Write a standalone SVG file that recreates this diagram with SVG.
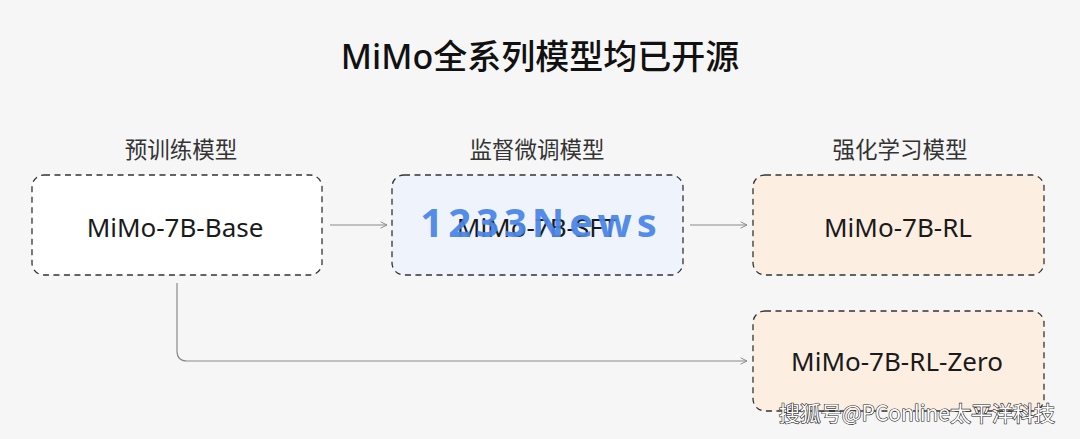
<svg xmlns="http://www.w3.org/2000/svg" width="1080" height="439" viewBox="0 0 1080 439">
<defs>
<marker id="arr" viewBox="0 0 10 10" refX="9" refY="5" markerWidth="8" markerHeight="8" markerUnits="userSpaceOnUse" orient="auto">
<path d="M1,1 L9,5 L1,9" fill="none" stroke="#888" stroke-width="1.2"/>
</marker>
<style>
.box{stroke:#333;stroke-width:1.3;stroke-dasharray:6 4.5}
.nt{font-family:"Noto Sans","Noto Sans CJK SC",sans-serif;font-size:26px;fill:#1a1a1a;text-anchor:middle}
.lb{font-family:"Noto Sans CJK SC",sans-serif;font-size:22.5px;fill:#333;text-anchor:middle}
.cn{fill:none;stroke:#8a8a8a;stroke-width:1.2}
</style>
</defs>
<rect width="1080" height="439" fill="#f6f6f6"/>
<text x="540" y="69" font-family="Noto Sans, Noto Sans CJK SC, sans-serif" font-size="34" font-weight="500" fill="#111" text-anchor="middle">MiMo全系列模型均已开源</text>
<g id="labels">
<text class="lb" x="181" y="158">预训练模型</text>
<text class="lb" x="537" y="158">监督微调模型</text>
<text class="lb" x="900" y="158">强化学习模型</text>
</g>
<g id="connectors">
<line class="cn" x1="330" y1="225" x2="387" y2="225" marker-end="url(#arr)"/>
<line class="cn" x1="690" y1="225" x2="747" y2="225" marker-end="url(#arr)"/>
<path class="cn" d="M177,283 V351 Q177,361 187,361 H747" marker-end="url(#arr)"/>
</g>
<g id="base">
<rect class="box" x="32" y="175" width="290" height="100" rx="12" fill="#ffffff"/>
<text class="nt" x="175" y="237">MiMo-7B-Base</text>
</g>
<g id="sft">
<rect class="box" x="392" y="175" width="291" height="100" rx="12" fill="#eef3fc"/>
<text class="nt" x="537" y="237">MiMo-7B-SFT</text>
</g>
<g id="rl">
<rect class="box" x="753" y="175" width="291" height="100" rx="12" fill="#fcefe2"/>
<text class="nt" x="898" y="237">MiMo-7B-RL</text>
</g>
<g id="rlzero">
<rect class="box" x="753" y="311" width="291" height="100" rx="12" fill="#fcefe2"/>
<text class="nt" x="897" y="371">MiMo-7B-RL-Zero</text>
</g>
<text x="541" y="237" font-family="Noto Sans, sans-serif" font-size="40" font-weight="700" fill="#4a86e8" fill-opacity="0.95" text-anchor="middle" letter-spacing="5">1233News</text>
<text x="1055" y="421" font-family="Noto Sans CJK SC, sans-serif" font-size="21" fill="#ffffff" stroke="#222" stroke-width="1.2" paint-order="stroke" text-anchor="end">搜狐号@PConline太平洋科技</text>
</svg>
